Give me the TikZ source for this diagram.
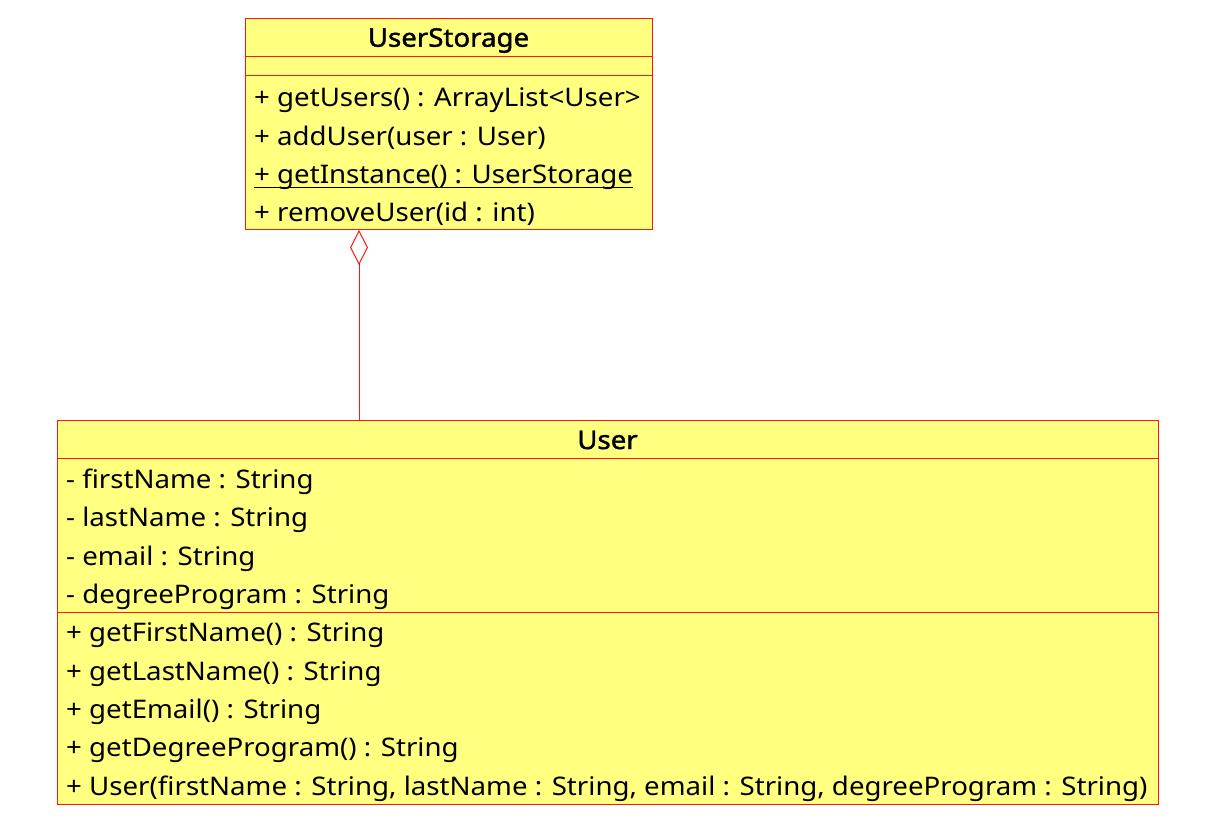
\documentclass[tikz,border=0pt]{standalone}
\usepackage{fontspec}
\setmainfont{Noto Sans}[FakeStretch=1.08]
\newfontfamily\umltitlefont{Noto Sans}[FakeStretch=1.08, FakeBold=1.6]
\usetikzlibrary{arrows.meta}
\definecolor{umlfill}{RGB}{255,255,128}
\definecolor{umlline}{RGB}{255,20,20}
\tikzset{
  classbox/.style={draw=umlline, fill=umlfill, line width=1pt, rectangle, inner sep=0pt, anchor=north west},
  sep/.style={draw=umlline, line width=1pt},
  txt/.style={inner sep=0pt, anchor=base west, font=\fontsize{25.6}{30}\selectfont},
  title/.style={inner sep=0pt, anchor=base, font=\fontsize{25.6}{30}\umltitlefont},
  agg/.style={draw=umlline, line width=1pt, -{Diamond[open, length=35pt, width=18pt, line width=1pt]}},
}
\begin{document}
\begin{tikzpicture}[x=1pt, y=-1pt]
\useasboundingbox (0,0) rectangle (1207,827);
% UserStorage
\node[classbox, minimum width=407pt, minimum height=211pt] (storage) at (245,18) {};
\draw[sep] (245,56.5) -- (652,56.5);
\draw[sep] (245,75.5) -- (652,75.5);
\node[title] (stitle) at (448.5,46.7) {UserStorage};
\node[txt] (s1) at (254,106.7) {+ getUsers() : ArrayList<User>};
\node[txt] (s2) at (254,145.1) {+ addUser(user : User)};
\node[txt] (s3) at (254,183.5) {+ getInstance() : UserStorage};
\node[txt] (s4) at (254,221.9) {+ removeUser(id : int)};
\draw[black, line width=1pt] (s3.west |- 0,187.7) -- (s3.east |- 0,187.7);
% User
\node[classbox, minimum width=1101pt, minimum height=384pt] (user) at (57,420) {};
\draw[sep] (57,458.5) -- (1158,458.5);
\draw[sep] (57,612.5) -- (1158,612.5);
\node[title] (utitle) at (607.5,449) {User};
\node[txt] (a1) at (66,488.3) {- firstName : String};
\node[txt] (a2) at (66,526.7) {- lastName : String};
\node[txt] (a3) at (66,565.1) {- email : String};
\node[txt] (a4) at (66,603.5) {- degreeProgram : String};
\node[txt] (m1) at (66,641.7) {+ getFirstName() : String};
\node[txt] (m2) at (66,680.1) {+ getLastName() : String};
\node[txt] (m3) at (66,718.5) {+ getEmail() : String};
\node[txt] (m4) at (66,756.9) {+ getDegreeProgram() : String};
\node[txt] (m5) at (66,795.3) {+ User(firstName : String, lastName : String, email : String, degreeProgram : String)};
% aggregation
\coordinate (cx) at (359,0);
\draw[agg] (user.north -| cx) -- (storage.south -| cx);
\end{tikzpicture}
\end{document}
